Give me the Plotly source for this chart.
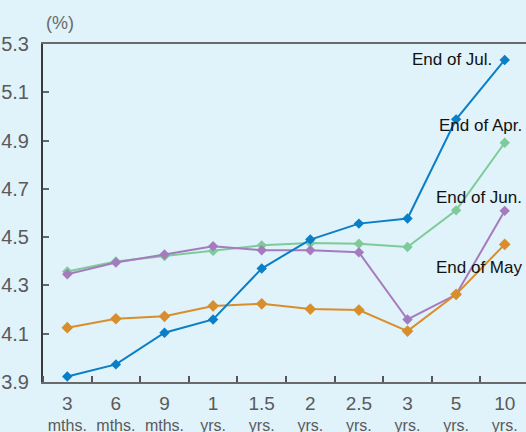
import plotly.graph_objects as go

numbers = ["3", "6", "9", "1", "1.5", "2", "2.5", "3", "5", "10"]
units = ["mths.", "mths.", "mths.", "yrs.", "yrs.", "yrs.", "yrs.", "yrs.", "yrs.", "yrs."]
end_jul = [3.923, 3.973, 4.104, 4.159, 4.370, 4.490, 4.556, 4.577, 4.988, 5.234]
end_apr = [4.358, 4.399, 4.422, 4.443, 4.466, 4.476, 4.473, 4.459, 4.611, 4.891]
end_jun = [4.346, 4.395, 4.428, 4.462, 4.446, 4.446, 4.437, 4.159, 4.262, 4.609]
end_may = [4.125, 4.162, 4.172, 4.215, 4.224, 4.202, 4.198, 4.111, 4.263, 4.470]
y_ticks = [3.9, 4.1, 4.3, 4.5, 4.7, 4.9, 5.1, 5.3]

categories = [f"<span style='font-size:19px'>{n}</span><br><span style='font-size:16px'>{u}</span>"
              for n, u in zip(numbers, units)]

BG = "#E0F2FA"
xs = list(range(len(numbers)))

fig = go.Figure()
series = [
    ("End of Apr.", end_apr, "#7DCB99", 8),
    ("End of Jun.", end_jun, "#A57BBE", 8),
    ("End of May", end_may, "#D98E2C", 9),
    ("End of Jul.", end_jul, "#0A7EC6", 8),
]
for name, vals, col, ms in series:
    fig.add_trace(go.Scatter(
        x=xs, y=vals, mode="lines+markers", name=name,
        line=dict(color=col, width=2),
        marker=dict(symbol="diamond", size=ms, color=col),
        cliponaxis=False,
    ))

label_font = dict(family="Liberation Sans, Arial, sans-serif", size=17, color="#111")
fig.add_annotation(x=9, y=end_jul[-1], xref="x", yref="y", text="End of Jul.",
                   showarrow=False, xanchor="right", yanchor="middle", xshift=-11, yshift=0, font=label_font)
fig.add_annotation(x=1, y=4.964, xref="paper", yref="y", text="End of Apr.",
                   showarrow=False, xanchor="right", yanchor="middle", xshift=-2, font=label_font)
fig.add_annotation(x=1, y=4.665, xref="paper", yref="y", text="End of Jun.",
                   showarrow=False, xanchor="right", yanchor="middle", xshift=-2, font=label_font)
fig.add_annotation(x=1, y=4.375, xref="paper", yref="y", text="End of May",
                   showarrow=False, xanchor="right", yanchor="middle", xshift=-2, font=label_font)
fig.add_annotation(x=0, y=1, xref="paper", yref="paper", text="(%)",
                   showarrow=False, xanchor="left", yanchor="bottom", xshift=1, yshift=9,
                   font=dict(family="Liberation Sans, Arial", size=18, color="#6a6a6a"))

tick_font = dict(family="Liberation Sans, Arial, sans-serif", size=20, color="#5a5a5a")

fig.update_layout(
    width=526, height=432,
    margin=dict(l=43, r=0, t=44, b=50),
    paper_bgcolor=BG, plot_bgcolor=BG,
    showlegend=False,
    xaxis=dict(
        range=[-0.5, 9.438], tickmode="array", tickvals=xs, ticktext=categories,
        ticks="", showgrid=False, zeroline=False, tickangle=0, automargin=False,
        showline=True, linecolor="#6a6a6a", linewidth=2, mirror=True,
        tickfont=dict(family="Liberation Sans, Arial, sans-serif", size=16, color="#5a5a5a"),
        ticklabelstandoff=7,
        minor=dict(tick0=0.5, dtick=1, ticks="inside", ticklen=6, tickcolor="#555", tickwidth=1.5, showgrid=False),
    ),
    yaxis=dict(
        range=[3.9, 5.3], tickmode="array", tickvals=y_ticks,
        ticktext=[f"{v:.1f}" for v in y_ticks],
        ticks="inside", ticklen=6, tickcolor="#666", tickwidth=1.5,
        showgrid=False, zeroline=False, automargin=False,
        showline=True, linecolor="#3a3a3a", linewidth=2,
        tickfont=tick_font, ticklabelstandoff=8,
    ),
)

fig.write_html("out.html")
